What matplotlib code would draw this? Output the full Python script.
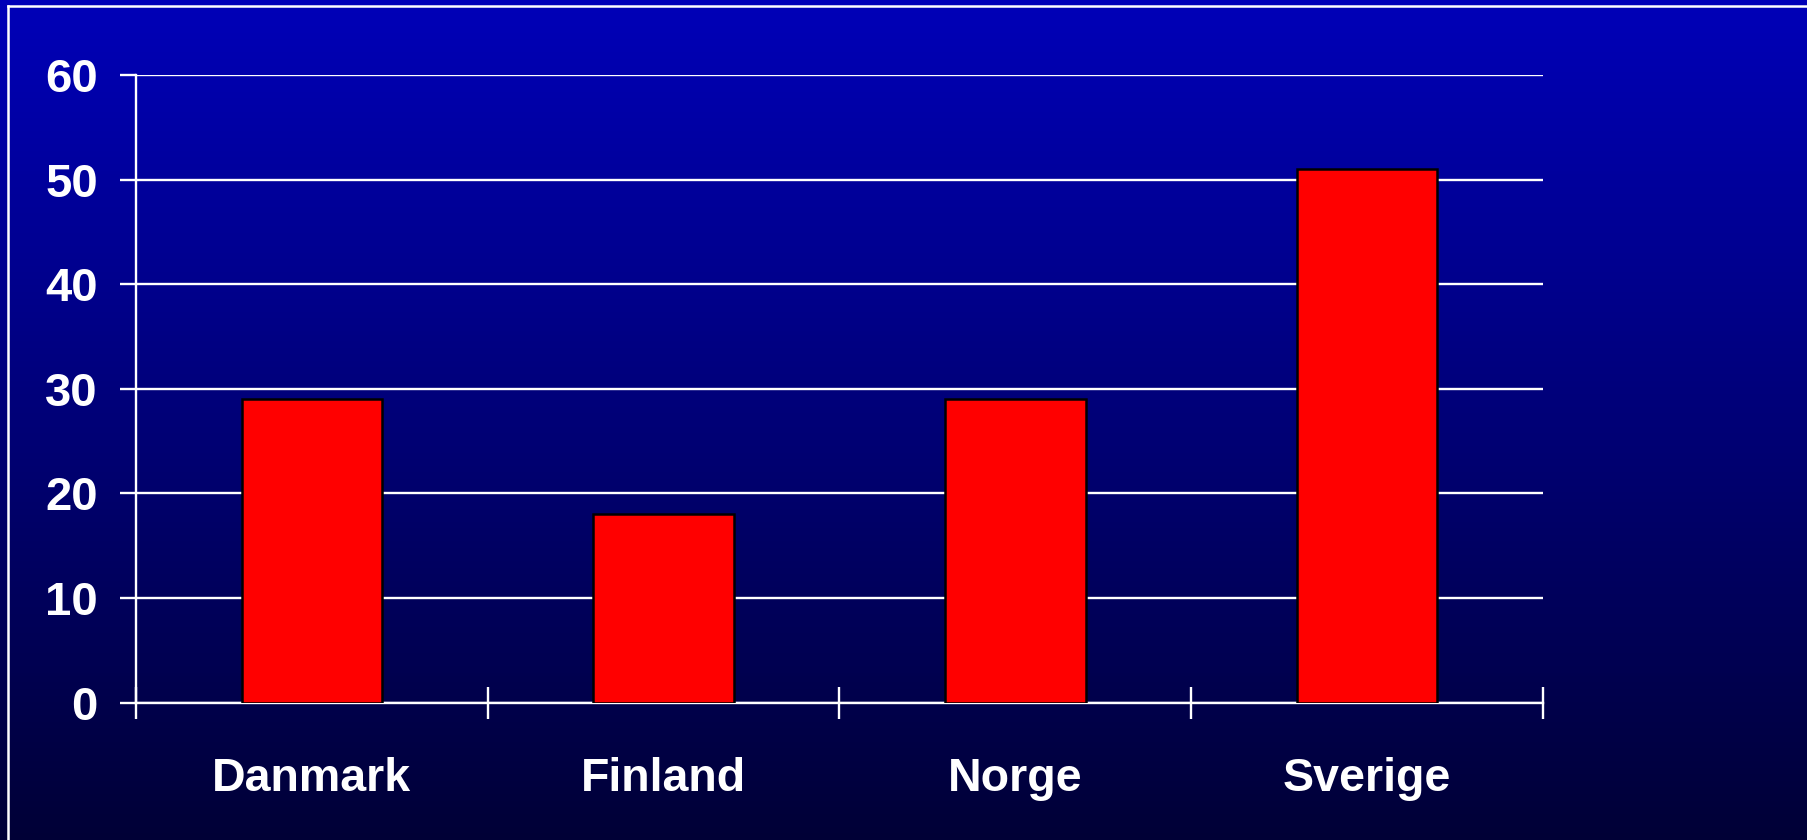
import matplotlib.pyplot as plt
import numpy as np
from matplotlib.lines import Line2D

# data
lander = ["Danmark", "Finland", "Norge", "Sverige"]
verdier = [29, 18, 29, 51]
yticks = [0, 10, 20, 30, 40, 50, 60]

plt.rcParams['font.family'] = ['Liberation Sans', 'DejaVu Sans']
plt.rcParams['font.weight'] = 'bold'

fig = plt.figure(figsize=(18.08, 8.4), dpi=100)

# gradient bakgrunn (blå -> mørk blå)
bg = fig.add_axes([0, 0, 1, 1], zorder=-10)
top = np.array([0, 0, 184]) / 255
bot = np.array([0, 0, 54]) / 255
t = np.linspace(0, 1, 256)[:, None]
grad = (top[None, :] * (1 - t) + bot[None, :] * t)[:, None, :]
bg.imshow(grad, aspect='auto', extent=[0, 1, 0, 1], origin='upper')
bg.set_xlim(0, 1)
bg.set_ylim(0, 1)
bg.axis('off')
# ramme
W, H = 1808, 840
bg.add_line(Line2D([8 / W, 8 / W], [0, 1 - 6 / H], color='white', lw=1.8))
bg.add_line(Line2D([8 / W, 1], [1 - 6 / H, 1 - 6 / H], color='white', lw=1.8))

ax = fig.add_axes([136 / W, 1 - 702.7 / H, (1543 - 136) / W, (702.7 - 75) / H])
ax.patch.set_alpha(0)

x = np.arange(len(lander)) + 0.5
ax.bar(x, verdier, width=0.4, color='#ff0000', edgecolor='black', linewidth=1.8, zorder=3)

ax.set_xlim(0, 4)
ax.set_ylim(0, 60)
ax.set_yticks(yticks)
ax.set_yticklabels([str(v) for v in yticks], fontsize=34, fontweight='bold', color='white')
ax.yaxis.grid(True, color='white', lw=1.7, zorder=1)
ax.set_axisbelow(True)
ax.tick_params(axis='y', length=11.5, width=1.7, color='white', pad=16)

ax.set_xticks(np.arange(0, 5))
ax.set_xticklabels([])
ax.tick_params(axis='x', which='major', direction='inout', length=23, width=1.7, color='white')
ax.set_xticks(x, minor=True)
ax.set_xticklabels(lander, minor=True, fontsize=33.5, fontweight='bold', color='white')
ax.tick_params(axis='x', which='minor', length=0, pad=39)

for s in ['top', 'right']:
    ax.spines[s].set_visible(False)
ax.spines['left'].set_color('white')
ax.spines['left'].set_linewidth(1.7)
ax.spines['bottom'].set_color('white')
ax.spines['bottom'].set_linewidth(1.7)

fig.savefig('out.png', dpi=100)
